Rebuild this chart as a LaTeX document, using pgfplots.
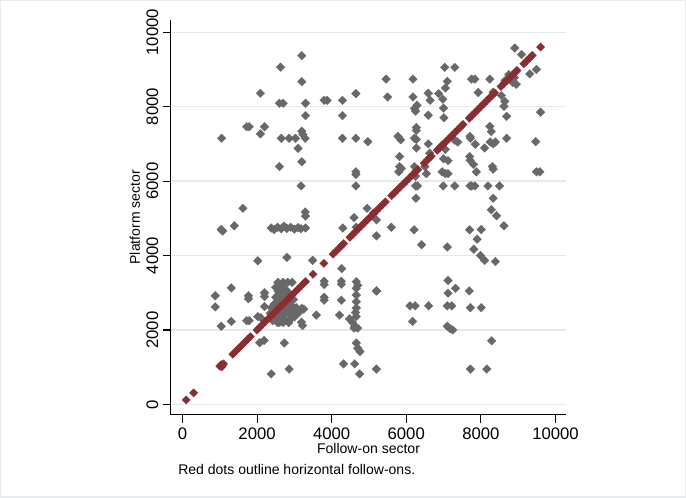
\documentclass[border=0pt]{standalone}
\usepackage{fontspec}
\setmainfont{Liberation Sans}
\usepackage{pgfplots}
\pgfplotsset{compat=1.18}
\definecolor{stgray}{RGB}{104,104,104}
\definecolor{stred}{RGB}{138,44,52}
\definecolor{gridc}{RGB}{226,234,238}
\definecolor{framec}{RGB}{232,236,238}

\begin{document}
\begin{tikzpicture}
\begin{axis}[
  scale only axis, width=296pt, height=296pt,
  xmin=-309, xmax=10287, ymin=-282, ymax=10336,
  axis x line*=bottom, axis y line*=left,
  axis line style={black, line width=0.8pt},
  xtick={0,2000,...,10000}, ytick={0,2000,...,10000},
  scaled ticks=false,
  tick align=outside, major tick length=6pt,
  tick style={black, line width=0.8pt},
  ymajorgrids, grid style={gridc, line width=0.9pt},
  /pgf/number format/assume math mode=true,
  /pgf/number format/1000 sep={},
  tick label style={font=\fontsize{12.5}{14}\selectfont},
  yticklabel style={rotate=90, anchor=south},
  xlabel={Follow-on sector},
  ylabel={Platform sector},
  xlabel style={at={(axis description cs:0.5,-0.086)}, anchor=center, font=\fontsize{10.5}{12}\selectfont},
  ylabel style={at={(axis description cs:-0.091,0.5)}, anchor=center, font=\fontsize{10.5}{12}\selectfont},
  clip=false,
]
% other (gray) deals
\addplot[only marks, mark=square*, mark size=2.3pt,
  mark options={rotate=45, fill=stgray, draw=stgray, line width=0.2pt}] coordinates {
  (3200,9370) (2630,9060) (3200,8670) (2090,8360) (2600,8090) (2700,8090) (3300,8090)
  (3800,8170) (3880,8170) (4290,8170) (4650,8350) (3300,7760) (4290,7760) (1720,7460)
  (1790,7460) (2200,7460) (2090,7270) (1050,7150) (2650,7150) (2860,7150) (3030,7150)
  (3200,7340) (3230,7250) (3290,7150) (3100,6880) (4290,7150) (4650,7150) (4970,7060)
  (2600,6390) (3200,6520) (4650,6250) (4650,6180) (3180,5870) (4650,5870)
  (1620,5270) (1040,4700) (1080,4660) (1390,4800) (2380,4740) (2460,4700) (2550,4760)
  (2650,4720) (2720,4790) (2800,4730) (2900,4760) (3000,4710) (3100,4750) (3180,4720)
  (3300,4740) (3300,5060) (3290,5170) (4300,4740) (4600,5020) (4660,4760) (4950,5270)
  (5120,5140) (5200,4960) (5200,4530) (5600,4760)
  (2800,3950) (2020,3860) (3490,3870) (4270,3650) (1310,3130) (880,2920) (880,2620)
  (1040,2100) (1310,2230) (1720,2250) (1790,2250) (1770,2920) (1770,2840) (2200,3000)
  (2200,2900) (2200,2630) (2020,2360) (2100,2330) (2070,1660) (2190,1720) (2730,1650)
  (2380,820) (2860,950) (3800,3310) (3800,3220) (3800,2880) (3800,2800) (4260,3310)
  (4260,3230) (4260,2800) (3590,2400) (4210,2400) (3200,2580) (3250,2560) (3190,2210)
  (3220,2120) (4480,2300) (4560,2200) (4620,2100) (4600,2050) (4320,1090) (4620,1090)
  (4750,820) (5200,3050) (5200,950) (4660,3300) (4660,3120) (4660,2940) (4660,2760)
  (4660,2590) (4660,2360) (4700,2050) (4660,1650) (4700,1510) (4760,1420) (4700,3200)
  (4640,2470)
  (2420,2250) (2480,2380) (2450,2520) (2520,2300) (2560,2450) (2540,2620) (2600,2200)
  (2620,2350) (2650,2520) (2580,2760) (2640,2900) (2560,3050) (2600,3200) (2700,3280)
  (2560,3280) (2820,3280) (2940,3280) (2680,2680) (2720,2420) (2760,2260) (2800,2580)
  (2850,2200) (2880,2420) (2900,2680) (2700,2980) (2750,3100) (2850,3000) (2950,2550)
  (3000,2350) (3050,2600) (2980,2820) (2500,2880) (2460,2700) (2380,2600) (2350,2450)
  (2650,3100) (2500,3150) (2780,2850) (3100,2450) (2900,2300) (2700,2200) (2550,2200)
  (2380,2350)
  (5460,8740) (5500,8260) (6180,8740) (6180,8260) (6590,8360) (6640,8170) (6870,8350)
  (6980,8200) (7050,8500) (7100,8680) (7030,9055) (7300,9055) (7750,8740) (7840,8740)
  (8240,8740) (7930,8380) (8330,8390) (8550,8300) (8640,8140) (8690,7740) (8910,9575)
  (9090,9400) (9310,8880) (9490,9000) (9600,7850) (8650,8700) (8750,8860) (8850,8650)
  (8900,8780) (8950,8600) (8620,8010)
  (6220,7950) (6290,8040) (6250,7880) (7000,7960) (7010,7700) (6590,7770) (8240,7470)
  (8280,7330) (6270,7440) (6270,7360) (6220,7150) (6270,7120) (5780,7200) (5850,7110)
  (5820,6660) (5820,6390) (5870,6340) (5800,6250) (6270,6890) (6220,6390) (6270,6290)
  (6250,6130) (6250,5870) (6300,5870) (6500,6390) (6540,6200) (6590,7000) (6630,6750)
  (6950,6950) (7050,6850) (7000,6600) (7120,6550) (6960,6250) (7050,6200) (7120,6200)
  (6990,5870) (7300,5870) (7380,7050) (7300,7100) (7710,7200) (7720,7150) (7850,6990)
  (7710,6560) (7710,5870) (7750,5870) (7840,5870) (8100,6890) (8250,7050) (8390,7050)
  (8330,7000) (8690,7150) (9470,7060) (7700,6660) (7800,6450) (7880,6250) (8310,6390)
  (8330,6320) (9490,6250) (9580,6250) (8190,5870) (8500,5870) (8330,5540) (8280,5230)
  (8420,5070) (6260,5540)
  (6210,4690) (6410,4290) (7100,4230) (7700,4690) (7810,4170) (7900,4440) (8010,4700)
  (8620,4800) (7990,4000) (8100,3870) (8390,3840) (5210,3050) (7120,3330) (7320,3120)
  (7120,2990) (7690,3050) (6100,2650) (6240,2650) (6600,2650) (7100,2650) (7220,2650)
  (7720,2600) (8010,2600) (6170,2230) (7100,2100) (7180,2030) (7250,2000) (8290,1710)
  (7720,950) (8160,950)
};
% horizontal follow-ons (red)
\addplot[only marks, mark=square*, mark size=2.2pt,
  mark options={rotate=45, fill=stred, draw=stred, line width=0.2pt}] coordinates {
  (100,120) (300,310) (1000,1030) (1040,1070) (1080,1050) (1050,1010) (1100,1090)
  (1350,1350) (1430,1430) (1510,1510) (1590,1590) (1670,1670) (1750,1750) (1820,1820)
  (2000,2000) (2060,2060) (2140,2140) (2220,2220) (2300,2300) (2380,2380) (2460,2460)
  (2540,2540) (2620,2620) (2700,2700) (2780,2780) (2860,2860) (2940,2940) (3020,3020)
  (3100,3100) (3180,3180) (3260,3260) (3300,3300)
  (3500,3500) (3790,3790)
  (4040,4040) (4120,4120) (4200,4200) (4260,4260) (4320,4320)
  (4490,4490) (4560,4560) (4640,4640) (4720,4720) (4800,4800) (4880,4880) (4960,4960)
  (5040,5040) (5120,5120) (5200,5200) (5280,5280) (5360,5360) (5440,5440)
  (5610,5610) (5680,5680) (5760,5760) (5840,5840) (5920,5920) (6000,6000) (6080,6080)
  (6160,6160) (6240,6240) (6310,6310)
  (6480,6480) (6560,6560) (6620,6620) (6670,6670)
  (6830,6830) (6900,6900) (6980,6980) (7060,7060) (7140,7140) (7220,7220) (7300,7300)
  (7380,7380) (7450,7450) (7520,7520)
  (7690,7690) (7760,7760) (7840,7840) (7920,7920) (8000,8000) (8080,8080) (8160,8160)
  (8240,8240) (8310,8310) (8370,8370)
  (8540,8540) (8620,8620) (8700,8700) (8780,8780) (8860,8860) (8930,8930) (8970,8970)
  (9150,9150) (9230,9230) (9310,9310) (9380,9380)
  (9600,9600)
};
\node[anchor=west, inner sep=0pt, font=\fontsize{10.5}{12}\selectfont]
  at (axis description cs:0.018,-0.137) {Red dots outline horizontal follow-ons.};
\end{axis}
\draw[framec, line width=1pt]
  ([shift={(-127.5pt,-61.5pt)}]current axis.south west) rectangle
  ([shift={(89.25pt,14.25pt)}]current axis.north east);
\end{tikzpicture}
\end{document}
